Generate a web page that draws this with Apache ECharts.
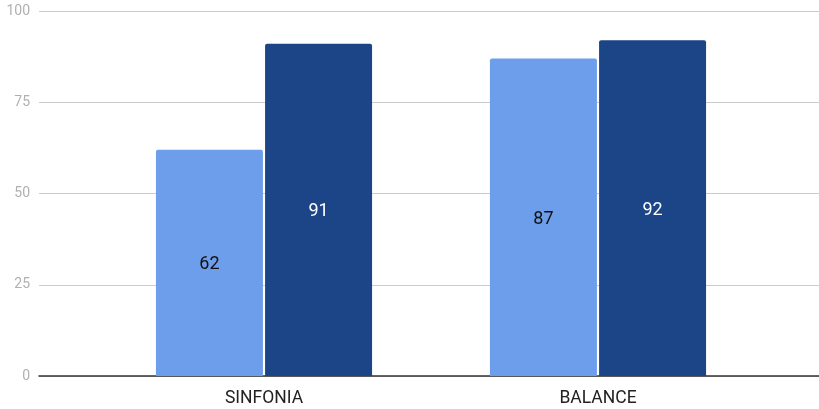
<!DOCTYPE html>
<html><head><meta charset="utf-8">
<script src="https://cdn.jsdelivr.net/npm/echarts@6/dist/echarts.min.js"></script>
<style>html,body{margin:0;padding:0;background:#fff}#c{width:819px;height:409px}</style>
</head><body><div id="c"></div>
<script>
var categories = ['SINFONIA', 'BALANCE'];
var seriesLight = [62, 87];
var seriesDark = [91, 92];
var yTicks = [0, 25, 50, 75, 100];

var chart = echarts.init(document.getElementById('c'), null, {renderer: 'canvas'});
var font = 'Roboto, "Liberation Sans", sans-serif';
chart.setOption({
  animation: false,
  grid: [
    {left: 39, right: 0, top: 11, bottom: 33},
    {left: 97, right: 54, top: 11, bottom: 33}
  ],
  xAxis: [
    {type: 'category', gridIndex: 0, data: [''], axisLine: {lineStyle: {color: '#333', width: 1.5}},
     axisTick: {show: false}, axisLabel: {show: false}, splitLine: {show: false}},
    {type: 'category', gridIndex: 1, data: categories, axisLine: {show: false}, axisTick: {show: false},
     axisLabel: {color: '#222', fontSize: 17.5, fontFamily: font, margin: 14}}
  ],
  yAxis: [
    {type: 'value', gridIndex: 0, min: yTicks[0], max: yTicks[yTicks.length - 1], interval: 25,
     axisLine: {show: false}, axisTick: {show: false},
     axisLabel: {color: '#b0b0b0', fontSize: 14, fontFamily: font, margin: 9},
     splitLine: {lineStyle: {color: '#ccc', width: 1}}},
    {type: 'value', gridIndex: 1, min: 0, max: 100, show: false, splitLine: {show: false}}
  ],
  series: [
    {type: 'bar', xAxisIndex: 1, yAxisIndex: 1, data: seriesLight, barWidth: 107, barGap: '2%',
     itemStyle: {color: '#6d9eeb', borderRadius: [2, 2, 0, 0]},
     label: {show: true, position: 'inside', offset: [0, 2], color: '#111', fontSize: 18, fontFamily: font}},
    {type: 'bar', xAxisIndex: 1, yAxisIndex: 1, data: seriesDark, barWidth: 107, barGap: '2%',
     itemStyle: {color: '#1c4587', borderRadius: [2, 2, 0, 0]},
     label: {show: true, position: 'inside', offset: [0, 2], color: '#fff', fontSize: 18, fontFamily: font}}
  ]
});
</script></body></html>
